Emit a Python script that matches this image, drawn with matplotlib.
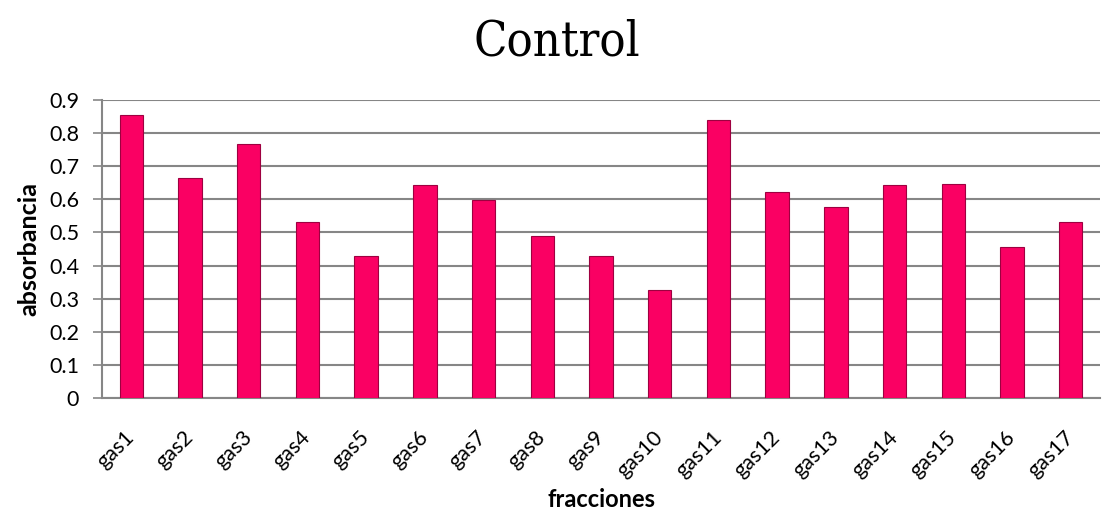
import numpy as np
import matplotlib.pyplot as plt

categories = ['gas1', 'gas2', 'gas3', 'gas4', 'gas5', 'gas6', 'gas7', 'gas8', 'gas9',
              'gas10', 'gas11', 'gas12', 'gas13', 'gas14', 'gas15', 'gas16', 'gas17']
absorbancia = [0.855, 0.664, 0.768, 0.532, 0.428, 0.643, 0.598, 0.488, 0.430,
               0.326, 0.840, 0.622, 0.576, 0.643, 0.646, 0.457, 0.532]
yticks = [0, 0.1, 0.2, 0.3, 0.4, 0.5, 0.6, 0.7, 0.8, 0.9]
ytick_labels = ['0', '0.1', '0.2', '0.3', '0.4', '0.5', '0.6', '0.7', '0.8', '0.9']

plt.rcParams['font.family'] = ['Lato', 'DejaVu Sans']

fig = plt.figure(figsize=(11.06, 5.18), dpi=100)
ax = fig.add_axes([0.0922, 0.2317, 0.9024, 0.5753])

x = np.arange(len(categories))
ax.bar(x, absorbancia, width=0.4, color='#FA0063', edgecolor='#9E0040',
       linewidth=0.8, zorder=3)

ax.set_xlim(-0.5, len(categories) - 0.5)
ax.set_ylim(0, 0.9)
ax.set_yticks(yticks)
ax.set_yticklabels(ytick_labels, fontsize=15.5)
ax.set_xticks(x)
ax.set_xticklabels(categories, rotation=45, ha='right', va='center',
                   rotation_mode='anchor', fontsize=15.5)
ax.tick_params(axis='x', length=0, pad=26)
ax.tick_params(axis='y', length=6.5, width=1.2, color='#868686', pad=10)

ax.grid(axis='y', color='#868686', linewidth=1.5, zorder=0)
for side in ['top', 'right']:
    ax.spines[side].set_visible(False)
for side in ['left', 'bottom']:
    ax.spines[side].set_color('#868686')
    ax.spines[side].set_linewidth(1.5)

ax.set_ylabel('absorbancia', fontsize=18, fontweight='bold', labelpad=6)
ax.set_xlabel('fracciones', fontsize=17, fontweight='bold', labelpad=5)
fig.text(0.503, 1 - 55 / 518, 'Control', ha='center', va='baseline',
         fontsize=35, family='DejaVu Serif', fontstretch='condensed')

fig.savefig('out.png', dpi=100)
